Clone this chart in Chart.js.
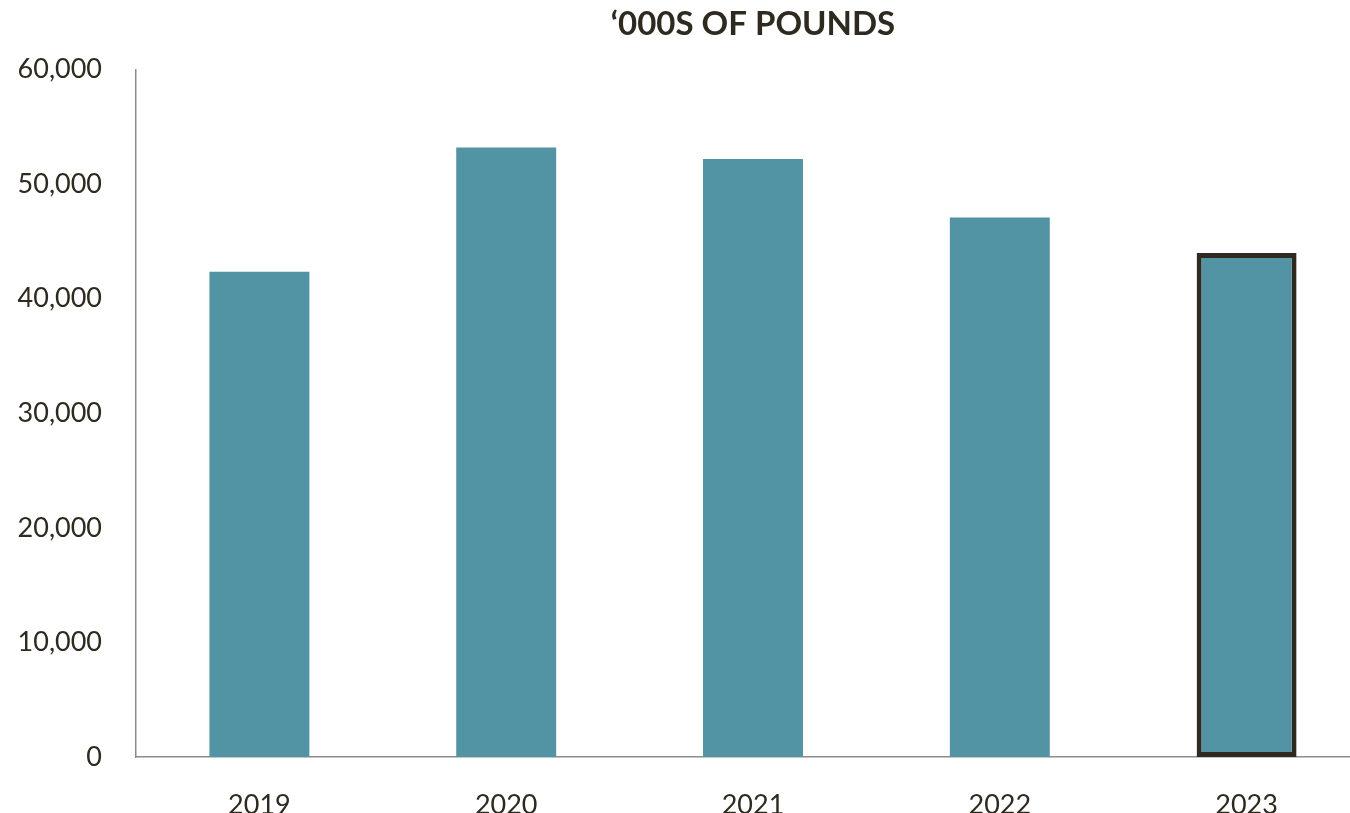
<!DOCTYPE html>
<html>
<head>
<meta charset="utf-8">
<script src="https://cdn.jsdelivr.net/npm/chart.js@4.4.0/dist/chart.umd.min.js"></script>
<style>
  html, body { margin: 0; padding: 0; background: #fff; overflow: hidden; }
  #wrap { width: 1370px; height: 813px; }
</style>
</head>
<body>
<div id="wrap"><canvas id="poundsChart"></canvas></div>
<script>
  // chart data
  const years = ['2019', '2020', '2021', '2022', '2023'];
  const pounds = [42350, 53200, 52200, 47100, 44000];
  const yTicks = [0, 10000, 20000, 30000, 40000, 50000, 60000];

  const textColor = '#2f2a20';
  const barColor = '#5294a3';
  const axisColor = '#8c8c8c';
  const fontFamily = 'Lato, "Noto Sans", sans-serif';

  const ctx = document.getElementById('poundsChart').getContext('2d');

  new Chart(ctx, {
    type: 'bar',
    data: {
      labels: years,
      datasets: [
        {
          data: pounds,
          backgroundColor: barColor,
          // only the latest year gets the dark outline
          borderColor: years.map((y, i) => i === years.length - 1 ? textColor : barColor),
          borderWidth: years.map((y, i) => i === years.length - 1 ? 5 : 0),
          borderSkipped: false,
          barPercentage: 0.405,
          categoryPercentage: 1.0
        }
      ]
    },
    options: {
      responsive: true,
      maintainAspectRatio: false,
      animation: false,
      layout: { padding: 0 },
      plugins: {
        legend: { display: false },
        tooltip: { enabled: false },
        title: {
          display: true,
          text: '\u2018000S OF POUNDS',
          color: textColor,
          fullSize: false,
          font: { family: fontFamily, size: 33, weight: 'bold' },
          padding: { top: 5, bottom: 25 }
        }
      },
      scales: {
        x: {
          grid: { display: false },
          border: { display: true, color: axisColor, width: 1.5 },
          ticks: {
            color: textColor,
            font: { family: fontFamily, size: 27 },
            padding: 24
          },
          afterFit: (scale) => { scale.height = 56; }
        },
        y: {
          min: 0,
          max: 60000,
          grid: { display: false },
          border: { display: true, color: axisColor, width: 1.5 },
          afterBuildTicks: (scale) => { scale.ticks = yTicks.map(v => ({ value: v })); },
          ticks: {
            color: textColor,
            font: { family: fontFamily, size: 27 },
            padding: 26,
            callback: (v) => v.toLocaleString('en-US')
          },
          afterFit: (scale) => { scale.width = 136; }
        }
      }
    }
  });
</script>
</body>
</html>
